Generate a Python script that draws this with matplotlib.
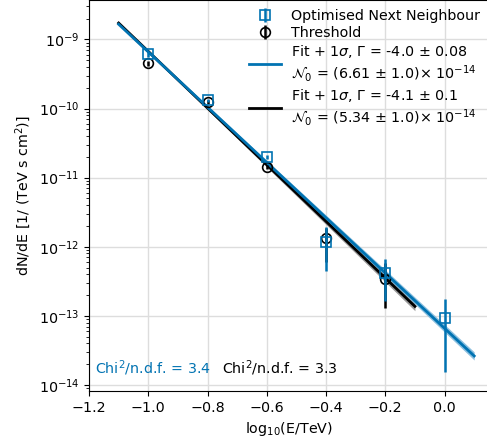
import numpy as np
import matplotlib
matplotlib.use("Agg")
import matplotlib.pyplot as plt

# ---- data ----
x_onn = [-1.0, -0.8, -0.6, -0.4, -0.2, 0.0]
y_onn = [6.1e-10, 1.31e-10, 2.0e-11, 1.18e-12, 4.15e-13, 9.3e-14]
y_onn_lo = [5.6e-10, 1.24e-10, 1.85e-11, 4.5e-13, 1.65e-13, 1.52e-14]
y_onn_hi = [6.6e-10, 1.38e-10, 2.15e-11, 1.92e-12, 6.7e-13, 1.75e-13]

x_thr = [-1.0, -0.8, -0.6, -0.4, -0.2]
y_thr = [4.5e-10, 1.25e-10, 1.43e-11, 1.32e-12, 3.47e-13]
y_thr_lo = [4.1e-10, 1.18e-10, 1.33e-11, 6.0e-13, 1.28e-13]
y_thr_hi = [4.9e-10, 1.32e-10, 1.53e-11, 1.85e-12, 5.8e-13]

fit_onn = dict(gamma=-4.0, gamma_err=0.08, n0=6.61e-14, n0_err=1.0e-14, xmin=-1.1, xmax=0.1)
fit_thr = dict(gamma=-4.1, gamma_err=0.1, n0=5.34e-14, n0_err=1.0e-14, xmin=-1.1, xmax=-0.1)
chi2_onn = 3.4
chi2_thr = 3.3

blue = '#0173b2'
black = 'black'
FS = 10.3

fig = plt.figure(figsize=(4.87, 4.41), dpi=100)
ax = fig.add_axes([89/487, 50/441, 400/487, 391/441])

def band(fit, xp=-1.25):
    xx = np.linspace(fit['xmin'], fit['xmax'], 100)
    logy = np.log10(fit['n0']) + fit['gamma'] * xx
    d = 0.55 * fit['gamma_err'] * np.abs(xx - xp)
    return xx, 10**logy, 10**(logy - d), 10**(logy + d)

xx, yy, lo, hi = band(fit_thr)
ax.fill_between(xx, lo, hi, color='#888888', alpha=0.85, lw=0, zorder=2)
xx, yy, lo, hi = band(fit_onn)
ax.fill_between(xx, lo, hi, color='#80b9dc', alpha=0.9, lw=0, zorder=2)

xx, yy, lo, hi = band(fit_thr)
l_thr, = ax.plot(xx, yy, color=black, lw=2, zorder=3,
                 label='Fit + 1$\\sigma$, $\\Gamma$ = %.1f $\\pm$ %.1f\n$\\mathcal{N}_0$ = (%.2f $\\pm$ %.1f)$\\times$ $10^{-14}$'
                 % (fit_thr['gamma'], fit_thr['gamma_err'], fit_thr['n0'] / 1e-14, fit_thr['n0_err'] / 1e-14))
xx, yy, lo, hi = band(fit_onn)
l_onn, = ax.plot(xx, yy, color=blue, lw=2, zorder=3,
                 label='Fit + 1$\\sigma$, $\\Gamma$ = %.1f $\\pm$ %.2f\n$\\mathcal{N}_0$ = (%.2f $\\pm$ %.1f)$\\times$ $10^{-14}$'
                 % (fit_onn['gamma'], fit_onn['gamma_err'], fit_onn['n0'] / 1e-14, fit_onn['n0_err'] / 1e-14))

y_thr_a = np.array(y_thr)
e_thr = [y_thr_a - np.array(y_thr_lo), np.array(y_thr_hi) - y_thr_a]
e_thr_plot = ax.errorbar(x_thr, y_thr, yerr=e_thr, fmt='o', mfc='none', mec=black, color=black,
                         ms=7, mew=1.2, elinewidth=1.8, zorder=4, label='Threshold')
y_onn_a = np.array(y_onn)
e_onn = [y_onn_a - np.array(y_onn_lo), np.array(y_onn_hi) - y_onn_a]
e_onn_plot = ax.errorbar(x_onn, y_onn, yerr=e_onn, fmt='s', mfc='none', mec=blue, color=blue,
                         ms=7, mew=1.2, elinewidth=1.8, zorder=5, label='Optimised Next Neighbour')

ax.set_yscale('log')
ax.set_xlim(-1.2, 0.15)
ax.set_ylim(10**-14.087, 10**-8.429)
ax.set_xticks([-1.2, -1.0, -0.8, -0.6, -0.4, -0.2, 0.0])
ax.grid(True, which='major', color='#dddddd', lw=1)
ax.set_axisbelow(True)
ax.set_xlabel('log$_{10}$(E/TeV)', fontsize=FS)
ax.set_ylabel('dN/dE [1/ (TeV s cm$^2$)]', fontsize=FS)
ax.tick_params(labelsize=FS)

ax.text(0.015, 0.045, 'Chi$^2$/n.d.f. = %.1f' % chi2_onn, color=blue, transform=ax.transAxes, fontsize=FS)
ax.text(0.333, 0.045, 'Chi$^2$/n.d.f. = %.1f' % chi2_thr, color=black, transform=ax.transAxes, fontsize=FS)

handles = [e_onn_plot, e_thr_plot, l_onn, l_thr]
labels = [h.get_label() for h in handles]
ax.legend(handles, labels, loc='upper right', frameon=False, fontsize=FS,
          bbox_to_anchor=(1.0, 1.0), borderaxespad=0.25, handlelength=2.2, labelspacing=0.2,
          handletextpad=0.7)

fig.savefig('out.png', dpi=100)
